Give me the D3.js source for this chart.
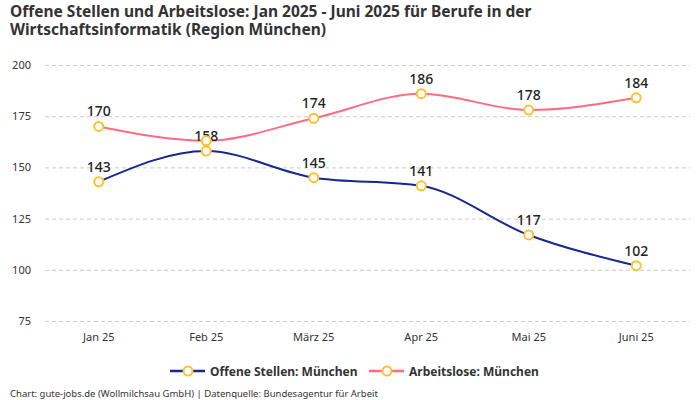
<!DOCTYPE html>
<html><head><meta charset="utf-8">
<script src="https://cdn.jsdelivr.net/npm/d3@7"></script>
<style>body{margin:0;background:#fff;font-family:"IBM Plex Sans","Noto Sans",sans-serif;}</style>
</head><body>
<svg id="c" width="700" height="400"></svg>
<script>
const categories = ["Jan 25","Feb 25","März 25","Apr 25","Mai 25","Juni 25"];
const offeneStellen = [143,158,145,141,117,102];
const arbeitslose = [170,163,174,186,178,184];
const yTicks = [75,100,125,150,175,200];
const seriesNames = ["Offene Stellen: München","Arbeitslose: München"];

(function(){
const svg = d3.select("#c");
const font = '"Noto Sans",sans-serif';
const pLeft = 45, pRight = 690, pTop = 65, pBottom = 321;
const x = d3.scaleBand().domain(categories).range([pLeft,pRight]).padding(0);
const cx = d => x(d) + x.bandwidth()/2;
const y = d3.scaleLinear().domain([75,200]).range([pBottom,pTop]);

svg.append("text").attr("x",10).attr("y",17).attr("font-family",font).attr("font-weight","bold").attr("font-size",15.5).attr("fill","#333")
  .text("Offene Stellen und Arbeitslose: Jan 2025 - Juni 2025 für Berufe in der");
svg.append("text").attr("x",10).attr("y",35).attr("font-family",font).attr("font-weight","bold").attr("font-size",15.5).attr("fill","#333")
  .text("Wirtschaftsinformatik (Region München)");

const yAxis = d3.axisLeft(y).tickValues(yTicks).tickSize(-(pRight-pLeft)).tickFormat(d3.format("d"));
const ga = svg.append("g").attr("transform",`translate(${pLeft},0)`).call(yAxis);
ga.select(".domain").remove();
ga.selectAll(".tick line").attr("stroke","#ccc").attr("stroke-dasharray","4,3");
ga.selectAll(".tick text").attr("x",-14).attr("font-family",font).attr("font-size",11).attr("fill","#333");

const xAxis = d3.axisBottom(x).tickSize(0);
const gx = svg.append("g").attr("transform",`translate(0,${pBottom+9})`).call(xAxis);
gx.select(".domain").remove();
gx.selectAll(".tick text").attr("font-family",font).attr("font-size",11).attr("fill","#333");

const series = [
  {name:seriesNames[0], values:offeneStellen, color:"#16288f"},
  {name:seriesNames[1], values:arbeitslose, color:"#ff6b84"}
];
const line = d3.line().x((d,i)=>cx(categories[i])).y(d=>y(d)).curve(d3.curveMonotoneX);
series.slice().reverse().forEach(s=>{
  svg.append("path").attr("d",line(s.values)).attr("fill","none").attr("stroke",s.color).attr("stroke-width",2);
});
series.forEach((s,si)=>{
  const g = svg.append("g");
  g.selectAll("circle").data(s.values).join("circle")
    .attr("cx",(d,i)=>cx(categories[i])).attr("cy",d=>y(d)).attr("r",4.5)
    .attr("fill","#fff").attr("stroke","#ffc22e").attr("stroke-width",2);
  g.selectAll("text").data(s.values).join("text")
    .attr("x",(d,i)=>cx(categories[i])).attr("y",d=>y(d)-10)
    .attr("text-anchor","middle").attr("font-family",font).attr("font-size",14).attr("font-weight",500).attr("fill","#222")
    .text((d,i)=> (si===1 && i===1) ? "" : d);
});

const leg = svg.append("g");
const lx = [170, 369];
series.forEach((s,i)=>{
  const g = leg.append("g").attr("transform",`translate(${lx[i]},371)`);
  g.append("line").attr("x1",0).attr("x2",35).attr("stroke",s.color).attr("stroke-width",2.5);
  g.append("circle").attr("cx",18).attr("r",4.5).attr("fill","#fff").attr("stroke","#ffc22e").attr("stroke-width",2);
  g.append("text").attr("x",40).attr("y",4.5).attr("font-family",font).attr("font-size",12).attr("font-weight","bold").attr("fill","#333").text(s.name);
});

svg.append("text").attr("x",10).attr("y",397).attr("font-family",font).attr("font-size",9.5).attr("fill","#333")
  .text("Chart: gute-jobs.de (Wollmilchsau GmbH) | Datenquelle: Bundesagentur für Arbeit");
})();
</script>
</body></html>
